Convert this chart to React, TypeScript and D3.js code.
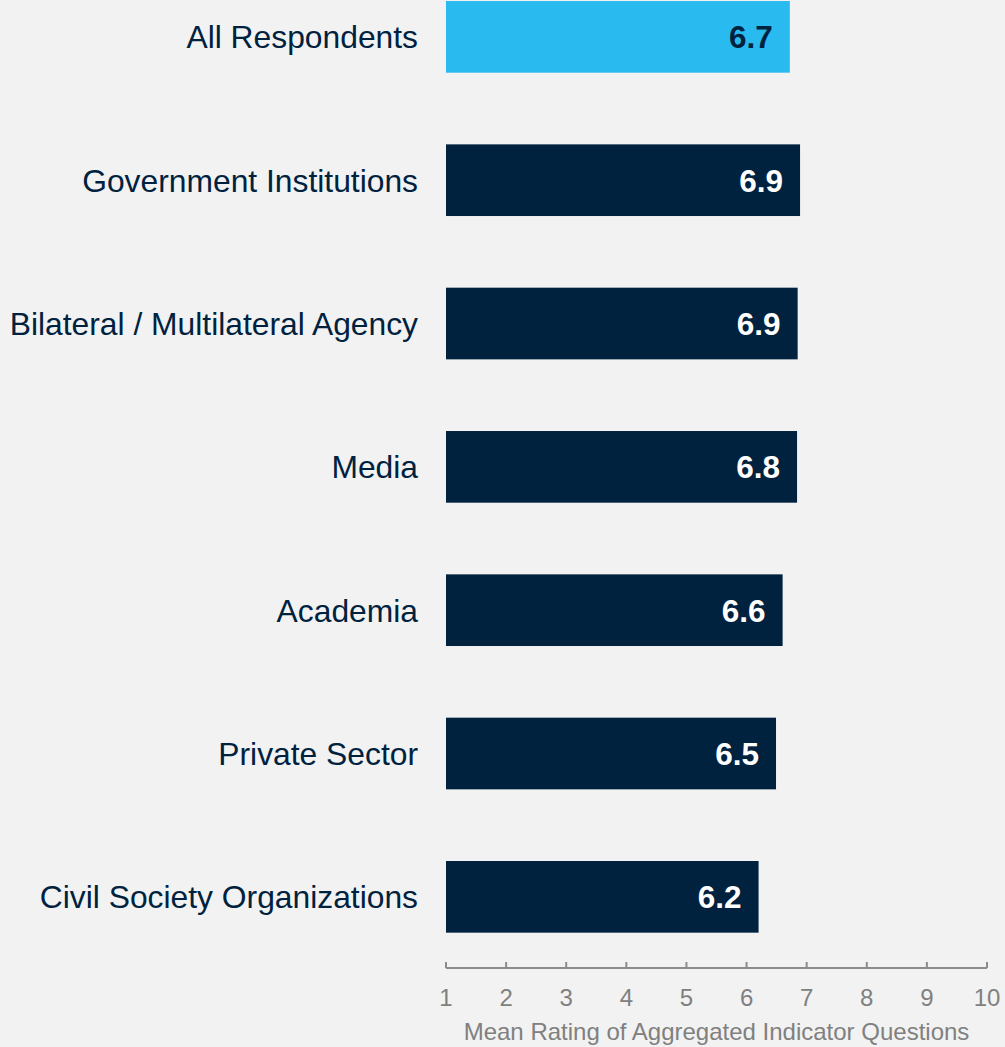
import React from "react";
import * as d3 from "d3";

const categories = [
  "All Respondents",
  "Government Institutions",
  "Bilateral / Multilateral Agency",
  "Media",
  "Academia",
  "Private Sector",
  "Civil Society Organizations",
];
const values = [6.72, 6.89, 6.85, 6.84, 6.6, 6.49, 6.2];
const valueLabels = ["6.7", "6.9", "6.9", "6.8", "6.6", "6.5", "6.2"];
const ticks = [1, 2, 3, 4, 5, 6, 7, 8, 9, 10];
const axisTitle = "Mean Rating of Aggregated Indicator Questions";

const W = 1005;
const H = 1047;
const FONT = "Arial, 'Liberation Sans', Helvetica, sans-serif";
const NAVY = "#00223f";
const LIGHT = "#29bbef";
const GRAY = "#808080";

export default function App() {
  React.useEffect(() => {
    document.body.style.margin = "0";
    document.body.style.background = "#f2f2f2";
  }, []);

  const x = d3.scaleLinear().domain([1, 10]).range([446, 987]);
  const y = d3
    .scaleBand<string>()
    .domain(categories)
    .range([-34.8, 968.5])
    .paddingInner(0.5)
    .paddingOuter(0.25);
  const axisY = 968;
  const ts = { fontFamily: FONT };

  return (
    <svg
      width={W}
      height={H}
      style={{ position: "absolute", left: 0, top: 0, display: "block", fontFamily: FONT }}
    >
      <rect x={0} y={0} width={W} height={H} fill="#f2f2f2" />
      {categories.map((c, i) => {
        const y0 = y(c)!;
        const bw = y.bandwidth();
        const first = i === 0;
        return (
          <g key={c}>
            <rect
              x={x(1)}
              y={y0}
              width={x(values[i]) - x(1)}
              height={bw}
              fill={first ? LIGHT : NAVY}
            />
            <text
              x={418}
              y={y0 + bw / 2 + 11.4}
              textAnchor="end"
              fontSize={31.8}
              fill={NAVY}
              style={ts}
            >
              {c}
            </text>
            <text
              x={x(values[i]) - 17}
              y={y0 + bw / 2 + 11.4}
              textAnchor="end"
              fontSize={31.5}
              fontWeight="bold"
              fill={first ? NAVY : "#ffffff"}
              style={ts}
            >
              {valueLabels[i]}
            </text>
          </g>
        );
      })}
      <line
        x1={x(1)}
        x2={x(10)}
        y1={axisY}
        y2={axisY}
        stroke="#8c8c8c"
        strokeWidth={2}
      />
      {ticks.map((t) => (
        <g key={t}>
          <line
            x1={x(t)}
            x2={x(t)}
            y1={axisY}
            y2={axisY - 6}
            stroke="#8c8c8c"
            strokeWidth={2}
          />
          <text
            x={x(t)}
            y={1006}
            textAnchor="middle"
            fontSize={24}
            fill={GRAY}
            style={ts}
          >
            {t}
          </text>
        </g>
      ))}
      <text
        x={(x(1) + x(10)) / 2}
        y={1040}
        textAnchor="middle"
        fontSize={24}
        fill={GRAY}
        style={ts}
      >
        {axisTitle}
      </text>
    </svg>
  );
}
